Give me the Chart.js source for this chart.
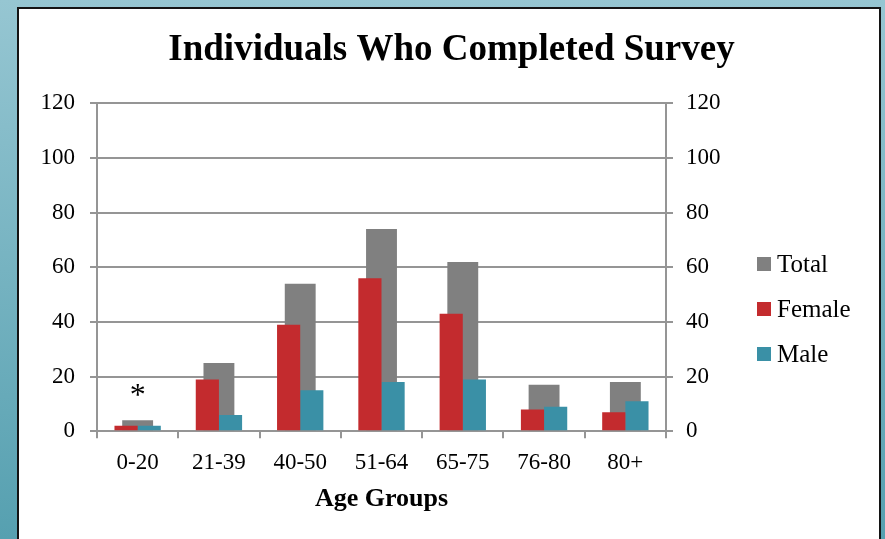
<!DOCTYPE html>
<html>
<head>
<meta charset="utf-8">
<script src="https://cdn.jsdelivr.net/npm/chart.js"></script>
<style>
  html, body { margin: 0; padding: 0; }
  body {
    width: 885px; height: 539px; overflow: hidden; position: relative;
    background: linear-gradient(to bottom, #96c6d2, #56a0b0);
  }
  #box {
    position: absolute; left: 17px; top: 7px; width: 860px; height: 600px;
    background: #fff; border: 2px solid #141414;
  }
  #wrap { position: absolute; left: 0; top: 0; width: 885px; height: 539px; }
</style>
</head>
<body>
<div id="box"></div>
<div id="wrap"><canvas id="myChart" width="885" height="539"></canvas></div>
<script>
const ageGroups = ['0-20', '21-39', '40-50', '51-64', '65-75', '76-80', '80+'];
const total = [4, 25, 54, 74, 62, 17, 18];
const female = [2, 19, 39, 56, 43, 8, 7];
const male = [2, 6, 15, 18, 19, 9, 11];
const yTicks = [0, 20, 40, 60, 80, 100, 120];

const serif = "'Liberation Serif', 'Times New Roman', serif";
const gridColor = '#959595';

// legend on the right, drawn by hand so it sits where the original one does
const sideLegend = {
    id: 'sideLegend',
    afterDraw(chart) {
        const c = chart.ctx;
        c.save();
        c.font = '25px ' + serif;
        c.textBaseline = 'middle';
        chart.data.datasets.forEach((ds, i) => {
            const y = 264 + i * 45;
            c.fillStyle = ds.backgroundColor;
            c.fillRect(757, y - 7, 14, 14);
            c.fillStyle = '#000';
            c.fillText(ds.label, 777, y + 1);
        });
        c.restore();
    }
};

// the asterisk over the first age group
const starNote = {
    id: 'starNote',
    afterDatasetsDraw(chart) {
        const c = chart.ctx;
        const x = chart.scales.x.getPixelForValue(0);
        const y = chart.scales.y.getPixelForValue(14);
        c.save();
        c.font = '32px ' + serif;
        c.textAlign = 'center';
        c.textBaseline = 'middle';
        c.fillStyle = '#000';
        c.fillText('*', x, y + 4);
        c.restore();
    }
};

const ctx = document.getElementById('myChart').getContext('2d');

new Chart(ctx, {
    type: 'bar',
    data: {
        labels: ageGroups,
        datasets: [{
            label: 'Total',
            data: total,
            backgroundColor: '#808080',
            grouped: false,
            order: 2,
            categoryPercentage: 0.38,
            barPercentage: 1
        }, {
            label: 'Female',
            data: female,
            backgroundColor: '#c32b2e',
            order: 1,
            categoryPercentage: 0.57,
            barPercentage: 1
        }, {
            label: 'Male',
            data: male,
            backgroundColor: '#3a90a6',
            order: 1,
            categoryPercentage: 0.57,
            barPercentage: 1
        }]
    },
    options: {
        responsive: false,
        animation: false,
        layout: { padding: { left: 18, right: 0, top: 0, bottom: 19 } },
        plugins: {
            legend: { display: false },
            tooltip: { enabled: false },
            title: {
                display: true,
                text: 'Individuals Who Completed Survey',
                color: '#000',
                font: { family: serif, size: 37, weight: 'bold' },
                padding: { top: 28, bottom: 31 }
            }
        },
        scales: {
            x: {
                offset: true,
                grid: { display: true, drawOnChartArea: false, offset: true, tickLength: 7, color: gridColor, lineWidth: 2 },
                border: { display: true, color: gridColor, width: 2 },
                ticks: { color: '#000', padding: 11, font: { family: serif, size: 23 } },
                title: {
                    display: true,
                    text: 'Age Groups',
                    color: '#000',
                    font: { family: serif, size: 26, weight: 'bold', lineHeight: 0.85 },
                    padding: { top: 0, bottom: 10 }
                }
            },
            y: {
                min: 0,
                max: 120,
                afterFit(s) { s.width = 79; },
                afterBuildTicks(s) { s.ticks = yTicks.map(v => ({ value: v })); },
                grid: { color: gridColor, lineWidth: 2, tickLength: 7 },
                border: { display: true, color: gridColor, width: 2 },
                ticks: { color: '#000', padding: 15, font: { family: serif, size: 23 } }
            },
            y2: {
                position: 'right',
                min: 0,
                max: 120,
                afterFit(s) { s.width = 219; },
                afterBuildTicks(s) { s.ticks = yTicks.map(v => ({ value: v })); },
                grid: { drawOnChartArea: false, color: gridColor, lineWidth: 2, tickLength: 7 },
                border: { display: true, color: gridColor, width: 2 },
                ticks: { color: '#000', padding: 13, font: { family: serif, size: 23 } }
            }
        }
    },
    plugins: [sideLegend, starNote]
});
</script>
</body>
</html>
